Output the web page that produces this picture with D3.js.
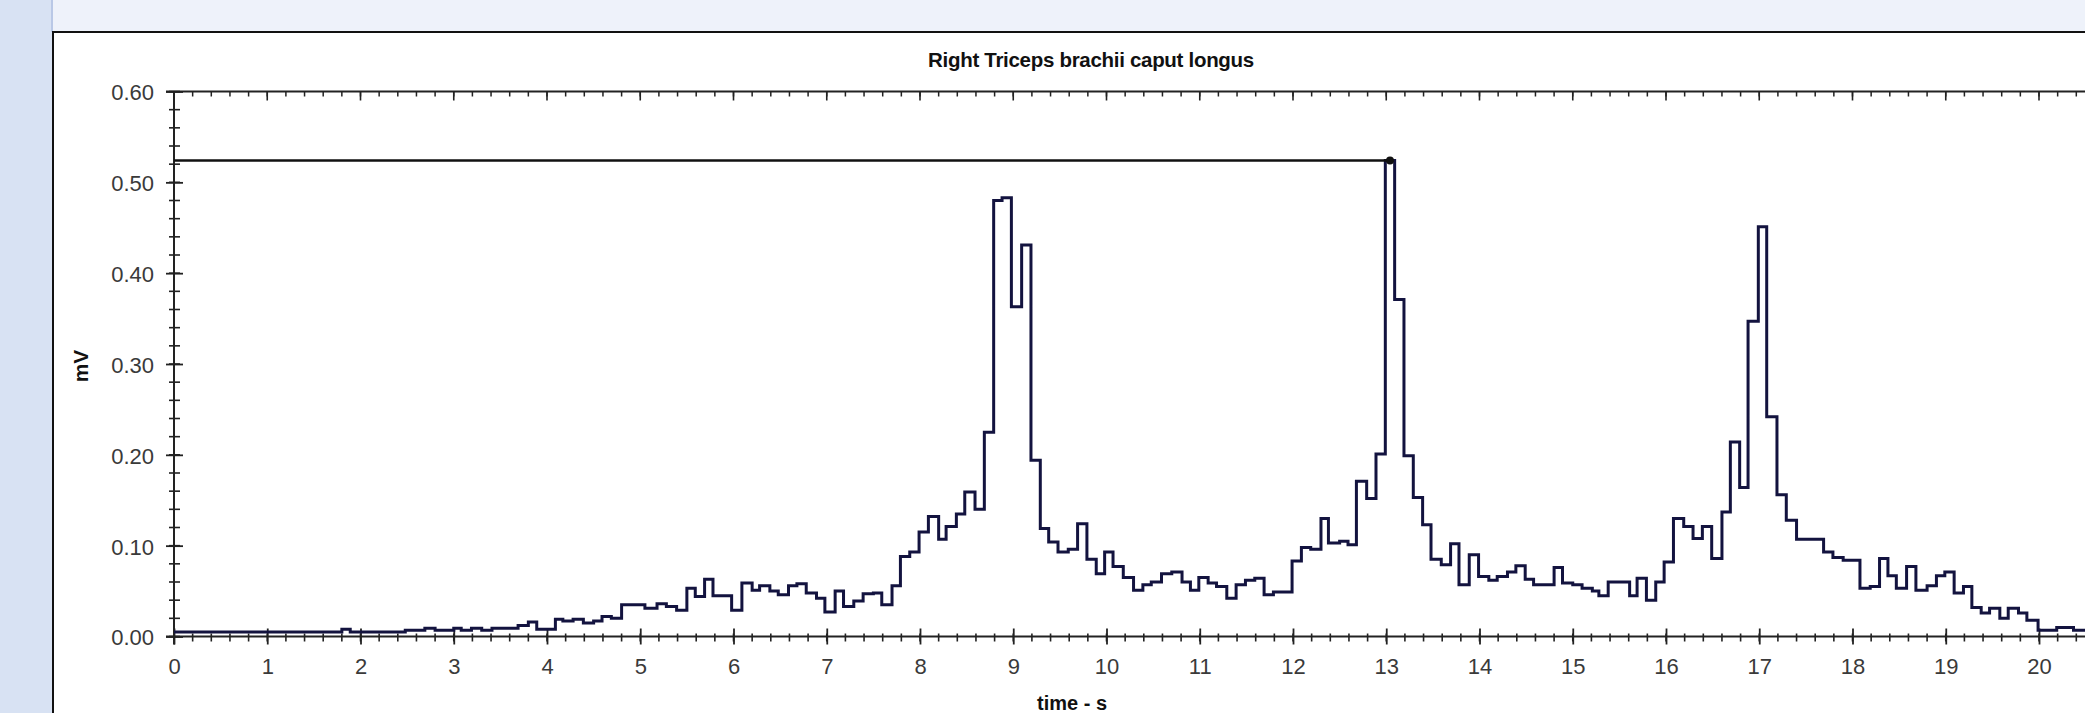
<!DOCTYPE html>
<html lang="en">
<head>
<meta charset="utf-8">
<title>Right Triceps brachii caput longus</title>
<script src="https://cdn.jsdelivr.net/npm/d3@7/dist/d3.min.js"></script>
<style>
  body { margin: 0; background: #fff; }
  svg { display: block; }
  text { font-family: "Liberation Sans", Arial, sans-serif; }
</style>
</head>
<body>
<svg width="2085" height="713"></svg>
<script>
// step start times (s) and the EMG amplitude (mV) held until the next start
var stepStart = [
  0.00, 1.80, 1.89, 2.48, 2.69, 2.80, 3.00, 3.08, 3.19, 3.30,
  3.41, 3.69, 3.80, 3.89, 4.09, 4.17, 4.28, 4.39, 4.50, 4.59,
  4.69, 4.80, 5.05, 5.18, 5.28, 5.39, 5.50, 5.59, 5.69, 5.78,
  5.98, 6.09, 6.20, 6.28, 6.39, 6.48, 6.59, 6.68, 6.78, 6.89,
  6.98, 7.09, 7.18, 7.29, 7.39, 7.50, 7.59, 7.70, 7.79, 7.89,
  7.99, 8.09, 8.20, 8.28, 8.39, 8.48, 8.59, 8.69, 8.79, 8.88,
  8.98, 9.09, 9.19, 9.29, 9.38, 9.48, 9.59, 9.69, 9.79, 9.89,
  9.98, 10.07, 10.18, 10.29, 10.39, 10.48, 10.59, 10.70, 10.81, 10.90,
  10.99, 11.09, 11.18, 11.29, 11.39, 11.49, 11.59, 11.69, 11.79, 11.99,
  12.09, 12.19, 12.30, 12.38, 12.50, 12.59, 12.68, 12.79, 12.89, 12.99,
  13.09, 13.19, 13.29, 13.39, 13.48, 13.59, 13.69, 13.78, 13.89, 13.99,
  14.10, 14.19, 14.30, 14.39, 14.49, 14.58, 14.80, 14.89, 15.00, 15.10,
  15.21, 15.28, 15.38, 15.61, 15.69, 15.79, 15.89, 15.98, 16.08, 16.19,
  16.29, 16.39, 16.49, 16.60, 16.69, 16.79, 16.88, 16.99, 17.08, 17.19,
  17.29, 17.40, 17.69, 17.79, 17.90, 18.08, 18.19, 18.29, 18.38, 18.47,
  18.58, 18.68, 18.80, 18.90, 18.99, 19.09, 19.19, 19.28, 19.38, 19.47,
  19.58, 19.67, 19.78, 19.87, 19.99, 20.19, 20.37
];
var stepValue = [
  0.005, 0.008, 0.005, 0.007, 0.009, 0.007, 0.009, 0.007, 0.009, 0.007,
  0.009, 0.012, 0.016, 0.008, 0.019, 0.017, 0.019, 0.015, 0.017, 0.022,
  0.020, 0.035, 0.031, 0.036, 0.033, 0.029, 0.053, 0.044, 0.063, 0.045,
  0.029, 0.059, 0.051, 0.056, 0.050, 0.046, 0.056, 0.058, 0.048, 0.042,
  0.027, 0.050, 0.033, 0.039, 0.047, 0.048, 0.035, 0.056, 0.088, 0.093,
  0.115, 0.132, 0.107, 0.121, 0.135, 0.159, 0.140, 0.225, 0.480, 0.483,
  0.363, 0.431, 0.194, 0.119, 0.104, 0.093, 0.096, 0.124, 0.085, 0.069,
  0.093, 0.077, 0.065, 0.051, 0.057, 0.060, 0.069, 0.071, 0.060, 0.051,
  0.065, 0.059, 0.055, 0.042, 0.057, 0.062, 0.064, 0.046, 0.049, 0.083,
  0.098, 0.096, 0.130, 0.103, 0.105, 0.101, 0.171, 0.152, 0.201, 0.524,
  0.371, 0.199, 0.153, 0.123, 0.085, 0.079, 0.102, 0.057, 0.090, 0.066,
  0.062, 0.066, 0.071, 0.078, 0.063, 0.057, 0.076, 0.059, 0.057, 0.053,
  0.050, 0.045, 0.060, 0.045, 0.064, 0.040, 0.060, 0.082, 0.130, 0.121,
  0.108, 0.121, 0.086, 0.137, 0.214, 0.164, 0.347, 0.451, 0.242, 0.156,
  0.128, 0.107, 0.093, 0.087, 0.084, 0.053, 0.055, 0.086, 0.067, 0.053,
  0.077, 0.051, 0.056, 0.067, 0.071, 0.048, 0.055, 0.032, 0.026, 0.031,
  0.020, 0.031, 0.026, 0.018, 0.007, 0.010, 0.007
];
var lastTime = 20.8;

// peak marker: horizontal line from t = 0 to the maximum
var peakTime = 13.04;
var peakValue = 0.524;

var xMajor = d3.range(0, 21);                 // 0 .. 20 s
var xMinor = d3.range(0, 21, 0.2);
var yMajor = [0, 0.1, 0.2, 0.3, 0.4, 0.5, 0.6];
var yMinor = d3.range(0, 0.6001, 0.02);

var titre = "Right Triceps brachii caput longus";
var xTitre = "time - s";
var yTitre = "mV";

var svg = d3.select("svg");
var W = 2085, H = 713;

// fond : bande gauche, bande haute, panneau blanc
svg.append("rect").attr("x", 0).attr("y", 0).attr("width", 53).attr("height", H).attr("fill", "#d8e2f3");
svg.append("rect").attr("x", 53).attr("y", 0).attr("width", W - 53).attr("height", 32).attr("fill", "#eef2fa");
svg.append("line").attr("x1", 52).attr("x2", 52).attr("y1", 0).attr("y2", 32).attr("stroke", "#b9c8e6").attr("stroke-width", 2);
svg.append("line").attr("x1", 52).attr("x2", W).attr("y1", 32).attr("y2", 32).attr("stroke", "#111").attr("stroke-width", 2);
svg.append("line").attr("x1", 53).attr("x2", 53).attr("y1", 32).attr("y2", H).attr("stroke", "#111").attr("stroke-width", 2);

var x = d3.scaleLinear().domain([0, 20]).range([174, 2039]);
var y = d3.scaleLinear().domain([0, 0.6]).range([636.5, 91.5]);

var grisAxe = "#222";
var grisTexte = "#3a3a3a";

// axe du bas
var gBas = svg.append("g").attr("transform", "translate(0," + y(0) + ")");
gBas.append("line").attr("x1", 166).attr("x2", W).attr("stroke", grisAxe).attr("stroke-width", 2);
gBas.selectAll("line.mineur").data(xMinor).enter().append("line")
  .attr("class", "mineur")
  .attr("x1", function (d) { return x(d); }).attr("x2", function (d) { return x(d); })
  .attr("y1", -3).attr("y2", 5).attr("stroke", grisAxe).attr("stroke-width", 1.6);
gBas.call(d3.axisBottom(x).tickValues(xMajor).tickSize(8).tickPadding(14).tickFormat(d3.format("d")))
  .call(function (g) { g.select(".domain").remove(); })
  .call(function (g) {
    g.selectAll(".tick line").attr("y1", -8).attr("stroke", grisAxe).attr("stroke-width", 1.8);
    g.selectAll(".tick text").attr("fill", grisTexte).style("font-size", "22px")
      .style("font-family", "'Liberation Sans', Arial, sans-serif");
  });

// axe du haut (0.60)
var gHaut = svg.append("g").attr("transform", "translate(0," + y(0.6) + ")");
gHaut.append("line").attr("x1", 166).attr("x2", W).attr("stroke", grisAxe).attr("stroke-width", 2);
gHaut.selectAll("line.mineur").data(xMinor).enter().append("line")
  .attr("class", "mineur")
  .attr("x1", function (d) { return x(d); }).attr("x2", function (d) { return x(d); })
  .attr("y1", 0).attr("y2", 5).attr("stroke", grisAxe).attr("stroke-width", 1.5);
gHaut.selectAll("line.majeur").data(xMajor).enter().append("line")
  .attr("class", "majeur")
  .attr("x1", function (d) { return x(d); }).attr("x2", function (d) { return x(d); })
  .attr("y1", 0).attr("y2", 9).attr("stroke", grisAxe).attr("stroke-width", 1.6);

// axe de gauche
var gGauche = svg.append("g").attr("transform", "translate(" + x(0) + ",0)");
gGauche.append("line").attr("y1", y(0.6)).attr("y2", y(0) + 8).attr("stroke", grisAxe).attr("stroke-width", 2);
gGauche.selectAll("line.mineur").data(yMinor).enter().append("line")
  .attr("class", "mineur")
  .attr("y1", function (d) { return y(d); }).attr("y2", function (d) { return y(d); })
  .attr("x1", -5).attr("x2", 6).attr("stroke", grisAxe).attr("stroke-width", 1.6);
gGauche.call(d3.axisLeft(y).tickValues(yMajor).tickSize(8).tickPadding(12).tickFormat(d3.format(".2f")))
  .call(function (g) { g.select(".domain").remove(); })
  .call(function (g) {
    g.selectAll(".tick line").attr("x2", 9).attr("x1", -8).attr("stroke", grisAxe).attr("stroke-width", 1.8);
    g.selectAll(".tick text").attr("fill", grisTexte).style("font-size", "22px")
      .attr("dy", "0.38em")
      .style("font-family", "'Liberation Sans', Arial, sans-serif");
  });

// courbe en escalier
var points = stepStart.map(function (t, i) { return [t, stepValue[i]]; });
points.push([lastTime, stepValue[stepValue.length - 1]]);

var ligne = d3.line()
  .x(function (d) { return x(d[0]); })
  .y(function (d) { return y(d[1]); })
  .curve(d3.curveStepAfter);

svg.append("path")
  .datum(points)
  .attr("d", ligne)
  .attr("fill", "none")
  .attr("stroke", "#13133f")
  .attr("stroke-width", 3);

// marqueur du pic
svg.append("line")
  .attr("x1", x(0)).attr("x2", x(peakTime))
  .attr("y1", y(peakValue)).attr("y2", y(peakValue))
  .attr("stroke", "#111").attr("stroke-width", 2.5);
svg.append("circle")
  .attr("cx", x(peakTime)).attr("cy", y(peakValue)).attr("r", 4)
  .attr("fill", "#111");

// titres
svg.append("text")
  .attr("x", 1091).attr("y", 67)
  .attr("text-anchor", "middle")
  .style("font-size", "20.5px").style("font-weight", "bold")
  .style("letter-spacing", "-0.3px")
  .attr("fill", "#111")
  .text(titre);

svg.append("text")
  .attr("x", 1072).attr("y", 710)
  .attr("text-anchor", "middle")
  .style("font-size", "20px").style("font-weight", "bold")
  .attr("fill", "#111")
  .text(xTitre);

svg.append("text")
  .attr("transform", "translate(88,366) rotate(-90)")
  .attr("text-anchor", "middle")
  .style("font-size", "21px").style("font-weight", "bold")
  .attr("fill", "#111")
  .text(yTitre);
</script>
</body>
</html>
